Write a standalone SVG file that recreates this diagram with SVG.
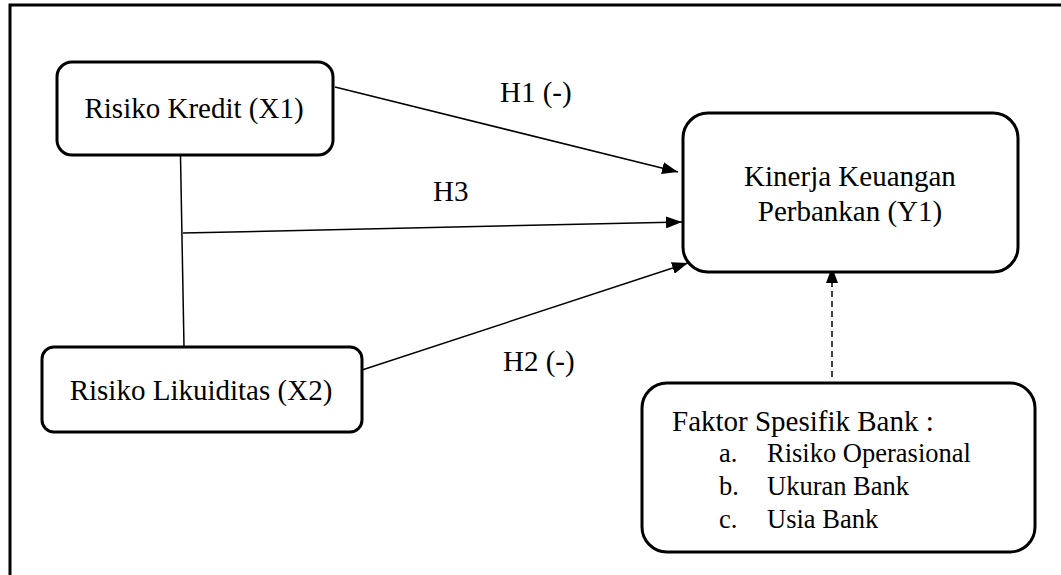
<svg xmlns="http://www.w3.org/2000/svg" width="1061" height="575" viewBox="0 0 1061 575">
  <style>
    .box { fill: #fff; stroke: #000; stroke-width: 3; }
    .lbl { font-family: "Liberation Serif", "Times New Roman", serif; font-size: 29px; fill: #000; }
    .item { font-family: "Liberation Serif", "Times New Roman", serif; font-size: 26.5px; fill: #000; }
    .edge { stroke: #000; stroke-width: 1.5; fill: none; }
  </style>
  <defs>
    <marker id="arrow" viewBox="0 0 16 12" refX="16" refY="6" markerWidth="16" markerHeight="12" markerUnits="userSpaceOnUse" orient="auto">
      <path d="M0,0 L16,6 L0,12 Z" fill="#000"/>
    </marker>
  </defs>
  <rect width="1061" height="575" fill="#fff"/>
  <!-- outer frame -->
  <rect x="10" y="5" width="1070" height="600" fill="none" stroke="#000" stroke-width="3"/>

  <g id="connectors">
    <line class="edge" x1="180" y1="129" x2="184" y2="347"/>
    <line class="edge" x1="335" y1="87" x2="678" y2="172" marker-end="url(#arrow)"/>
    <line class="edge" x1="183" y1="233" x2="682" y2="222" marker-end="url(#arrow)"/>
    <line class="edge" x1="362" y1="370" x2="688" y2="263" marker-end="url(#arrow)"/>
    <line class="edge" x1="832" y1="377" x2="832" y2="267" stroke-dasharray="6,4" marker-end="url(#arrow)"/>
    <text class="lbl" x="500" y="102">H1 (-)</text>
    <text class="lbl" x="433" y="201">H3</text>
    <text class="lbl" x="503" y="371">H2 (-)</text>
  </g>

  <g id="kredit">
    <rect class="box" x="57" y="62" width="276" height="93" rx="15"/>
    <text class="lbl" x="194" y="118" text-anchor="middle">Risiko Kredit (X1)</text>
  </g>

  <g id="likuiditas">
    <rect class="box" x="42" y="347" width="320" height="85" rx="12"/>
    <text class="lbl" x="201" y="400" text-anchor="middle">Risiko Likuiditas (X2)</text>
  </g>

  <g id="kinerja">
    <rect class="box" x="683" y="113" width="335" height="159" rx="25"/>
    <text class="lbl" x="850" y="186" text-anchor="middle">Kinerja Keuangan</text>
    <text class="lbl" x="850" y="221" text-anchor="middle">Perbankan (Y1)</text>
  </g>

  <g id="faktor">
    <rect class="box" x="642" y="383" width="393" height="169" rx="25"/>
    <text class="lbl" x="672" y="431">Faktor Spesifik Bank :</text>
    <text class="item" x="719" y="462">a.</text>
    <text class="item" x="767" y="462">Risiko Operasional</text>
    <text class="item" x="719" y="495">b.</text>
    <text class="item" x="767" y="495">Ukuran Bank</text>
    <text class="item" x="719" y="528">c.</text>
    <text class="item" x="767" y="528">Usia Bank</text>
  </g>
</svg>
